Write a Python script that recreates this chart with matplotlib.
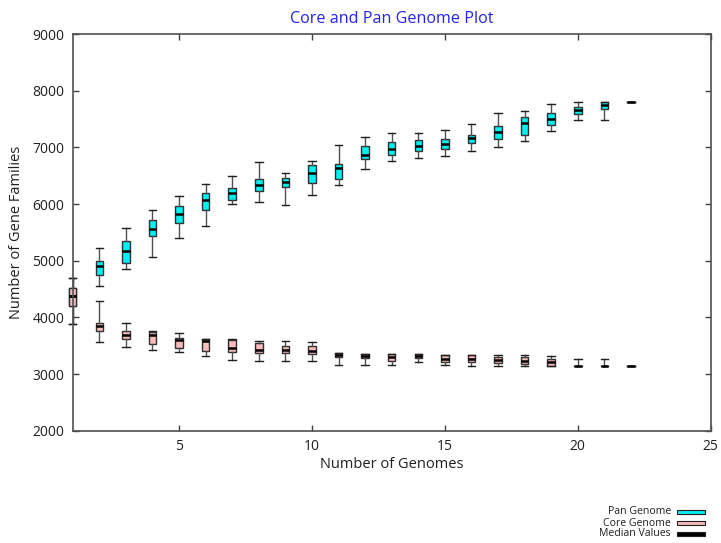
import matplotlib
matplotlib.use("Agg")
import matplotlib.pyplot as plt
from matplotlib.patches import Rectangle

plt.rcParams['font.family'] = ['Open Sans', 'DejaVu Sans']

genomes = list(range(1, 23))

# Pan genome: lower whisker, Q1, median, Q3, upper whisker
pan_lo  = [3885, 4562, 4845, 5069, 5392, 5604, 6005, 6034, 5987, 6164, 6329,
           6611, 6753, 6818, 6841, 6935, 7000, 7112, 7290, 7477, 7477, 7806]
pan_q1  = [4208, 4756, 4963, 5428, 5663, 5887, 6076, 6228, 6300, 6376, 6440,
           6788, 6871, 6935, 6970, 7083, 7147, 7224, 7394, 7583, 7683, 7806]
pan_med = [4373, 4898, 5168, 5551, 5816, 6076, 6200, 6329, 6387, 6553, 6635,
           6859, 6977, 7018, 7065, 7164, 7276, 7429, 7495, 7654, 7742, 7806]
pan_q3  = [4521, 4991, 5344, 5710, 5958, 6193, 6276, 6435, 6463, 6682, 6700,
           7023, 7101, 7136, 7154, 7224, 7376, 7535, 7601, 7718, 7806, 7806]
pan_hi  = [4691, 5221, 5570, 5887, 6147, 6359, 6488, 6741, 6553, 6753, 7049,
           7182, 7247, 7247, 7306, 7419, 7601, 7641, 7760, 7806, 7806, 7806]

# Core genome
core_lo  = [3885, 3560, 3472, 3426, 3396, 3325, 3254, 3237, 3237, 3225, 3166,
            3166, 3166, 3219, 3166, 3148, 3137, 3148, 3137, 3148, 3137, 3137]
core_q1  = [4208, 3767, 3620, 3532, 3454, 3401, 3383, 3373, 3373, 3355, 3295,
            3284, 3237, 3284, 3207, 3207, 3189, 3178, 3137, 3148, 3137, 3137]
core_med = [4373, 3850, 3696, 3696, 3608, 3590, 3454, 3431, 3431, 3401, 3337,
            3325, 3295, 3325, 3266, 3266, 3249, 3237, 3207, 3148, 3137, 3137]
core_q3  = [4521, 3896, 3767, 3740, 3631, 3620, 3600, 3549, 3496, 3496, 3366,
            3355, 3355, 3355, 3343, 3343, 3307, 3295, 3266, 3148, 3137, 3137]
core_hi  = [4691, 4284, 3896, 3767, 3719, 3620, 3610, 3590, 3590, 3560, 3366,
            3355, 3355, 3355, 3343, 3343, 3343, 3343, 3325, 3266, 3266, 3137]

x_ticks = [5, 10, 15, 20, 25]
y_ticks = [2000, 3000, 4000, 5000, 6000, 7000, 8000, 9000]

title = "Core and Pan Genome Plot"
xlabel = "Number of Genomes"
ylabel = "Number of Gene Families"
legend_labels = ["Pan Genome", "Core Genome", "Median Values"]

PAN_COLOR = "#00F0F0"
CORE_COLOR = "#F8BCBC"

fig = plt.figure(figsize=(7.21, 5.43), dpi=100)
ax = fig.add_axes([72.7 / 721, 1 - 430.7 / 543, (710.7 - 72.7) / 721, (430.7 - 34) / 543])


def stats(lo, q1, med, q3, hi):
    return [dict(whislo=a, q1=b, med=c, q3=d, whishi=e, fliers=[])
            for a, b, c, d, e in zip(lo, q1, med, q3, hi)]


for data, col in [((pan_lo, pan_q1, pan_med, pan_q3, pan_hi), PAN_COLOR),
                  ((core_lo, core_q1, core_med, core_q3, core_hi), CORE_COLOR)]:
    arts = ax.bxp(stats(*data), positions=genomes, widths=0.28, capwidths=0.28,
                  patch_artist=True, showfliers=False, manage_ticks=False,
                  boxprops=dict(facecolor=col, edgecolor="#303030", linewidth=1.0),
                  whiskerprops=dict(color="#505050", linewidth=1.0),
                  capprops=dict(color="#202020", linewidth=1.0),
                  medianprops=dict(color="black", linewidth=1.8))
    for group in arts.values():
        for a in group:
            a.set_clip_on(False)

ax.set_xlim(1, 25)
ax.set_ylim(2000, 9000)
ax.set_xticks(x_ticks)
ax.set_yticks(y_ticks)
ax.tick_params(direction="in", length=4, width=1.0, color="#404040",
               top=True, right=True, labelsize=10, pad=6, labelcolor="#202020")
for s in ax.spines.values():
    s.set_color("#505050")
    s.set_linewidth(1.2)

ax.set_title(title, color="#2424E8", fontsize=11.6, pad=8)
ax.set_xlabel(xlabel, fontsize=10.5, labelpad=2, color="#202020")
ax.set_ylabel(ylabel, fontsize=10.5, labelpad=6, color="#202020")

# legend (outside bottom-right, gnuplot style)
leg_colors = [PAN_COLOR, CORE_COLOR, "black"]
rows_y = [512.0, 523.0, 534.0]
for lab, c, yy in zip(legend_labels, leg_colors, rows_y):
    fig.text(671 / 721, 1 - yy / 543, lab, ha="right", va="center",
             fontsize=7.6, color="#202020")
    fig.patches.append(Rectangle((677 / 721, 1 - (yy + 2) / 543), 28 / 721, 4.5 / 543,
                                 transform=fig.transFigure, facecolor=c,
                                 edgecolor="#202020", linewidth=0.8))

fig.savefig("out.png", dpi=100)
